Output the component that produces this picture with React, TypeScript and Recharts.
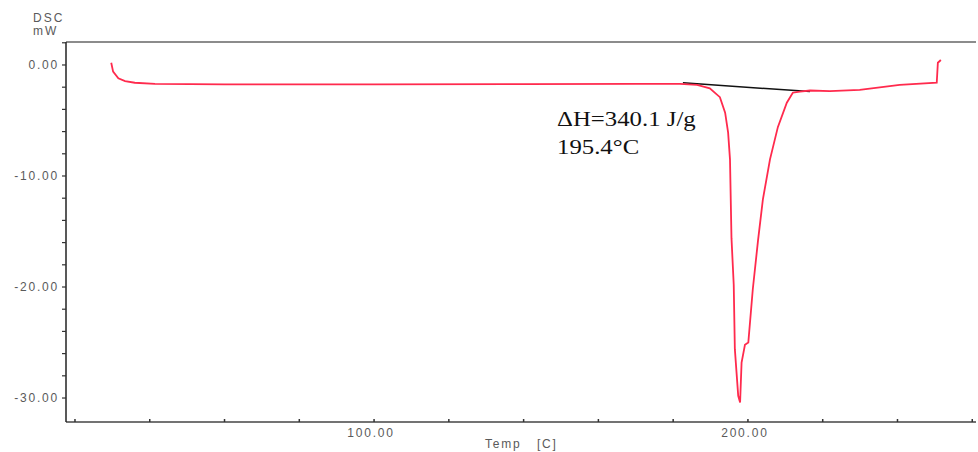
import { LineChart, Line, XAxis, YAxis, ReferenceLine } from 'recharts';

// DSC trace (temperature in C, heat flow in mW)
const temps = [
  29.7, 30.2, 31.6, 33.4, 36, 41.4, 60, 100, 140, 170, 181.8, 186.4, 189.8, 192.5, 193.9,
  194.7, 195.2, 195.6, 196.2, 196.5, 197.4, 197.9, 198.3, 199.2, 200.1, 201.3, 202.7,
  204.0, 205.9, 208.0, 210.4, 212.0, 213.9, 216.6, 221.9, 229.9, 240.6, 250.5, 250.8, 251.6,
];
const dsc = [
  0.2, -0.6, -1.2, -1.45, -1.6, -1.7, -1.75, -1.75, -1.72, -1.7, -1.7, -1.8, -2.1, -2.9, -4.3,
  -6.1, -8.5, -15.6, -19.8, -25.6, -29.8, -30.4, -26.8, -25.2, -25.0, -20.2, -15.8,
  -12.1, -8.5, -5.6, -3.4, -2.5, -2.4, -2.3, -2.35, -2.25, -1.8, -1.6, 0.2, 0.45,
];

// integration baseline (black)
const baseTemps = [182.6, 216.6];
const baseDsc = [-1.6, -2.4];

const xTicks = [20, 40, 60, 80, 100, 120, 140, 160, 180, 200, 220, 240, 260];
const xLabels = [100, 200];
const yTicks = [2, 0, -2, -4, -6, -8, -10, -12, -14, -16, -18, -20, -22, -24, -26, -28, -30];
const yLabels = [0, -10, -20, -30];

const X_MIN = 17.6;
const X_MAX = 261;
const Y_MIN = -32.16;
const Y_MAX = 2.07;

const trace = temps.map((t, i) => ({ t, dsc: dsc[i] }));
const baseline = baseTemps.map((t, i) => ({ t, dsc: baseDsc[i] }));

const tickFont = {
  fontFamily: 'Liberation Sans, Arial, sans-serif',
  fontSize: 12,
  fill: '#5a5a5a',
  letterSpacing: 1.8,
};

function XTick({ x, y, payload }: { x: number; y: number; payload: { value: number } }) {
  const v = payload.value;
  return (
    <g>
      <line x1={x} x2={x} y1={y} y2={y - 3} stroke="#333" strokeWidth={1.5} />
      {xLabels.includes(v) && (
        <text x={x - 3} y={y + 15} textAnchor="middle" {...tickFont}>
          {v.toFixed(2)}
        </text>
      )}
    </g>
  );
}

export default function App() {
  return (
    <div style={{ position: 'absolute', left: 0, top: 0, width: 978, height: 452, overflow: 'hidden', background: '#fff' }}>
      <LineChart
        width={978}
        height={452}
        data={trace}
        margin={{ top: 42, right: 2, bottom: 0, left: 0 }}
      >
        <XAxis
          dataKey="t"
          type="number"
          domain={[X_MIN, X_MAX]}
          ticks={xTicks}
          allowDataOverflow
          height={30}
          tickSize={0}
          tickMargin={0}
          tickLine={false}
          axisLine={{ stroke: '#444', strokeWidth: 1.5 }}
          tick={(props: any) => <XTick {...props} />}
          interval={0}
        />
        <YAxis
          type="number"
          domain={[Y_MIN, Y_MAX]}
          ticks={yTicks}
          allowDataOverflow
          width={66}
          interval={0}
          tickSize={4}
          tickMargin={3}
          tickLine={{ stroke: '#333', strokeWidth: 1.2 }}
          axisLine={{ stroke: '#222', strokeWidth: 1.5 }}
          tick={tickFont}
          tickFormatter={(v: number) => (yLabels.includes(v) ? v.toFixed(2) : '')}
        />
        <ReferenceLine y={Y_MAX} stroke="#666" strokeWidth={1.5} />
        <Line
          data={baseline}
          dataKey="dsc"
          type="linear"
          stroke="#111"
          strokeWidth={1.5}
          dot={false}
          isAnimationActive={false}
        />
        <Line
          dataKey="dsc"
          type="linear"
          stroke="#ff2a4d"
          strokeWidth={1.8}
          dot={false}
          isAnimationActive={false}
        />
      </LineChart>
      <div
        style={{
          position: 'absolute',
          left: 33,
          top: 12,
          fontFamily: 'Liberation Sans, Arial, sans-serif',
          fontSize: 12,
          lineHeight: '13px',
          color: '#5a5a5a',
          letterSpacing: 2,
        }}
      >
        DSC
        <br />
        mW
      </div>
      <div
        style={{
          position: 'absolute',
          left: 485,
          top: 437,
          fontFamily: 'Liberation Sans, Arial, sans-serif',
          fontSize: 12,
          lineHeight: '14px',
          color: '#5a5a5a',
          letterSpacing: 1.8,
          whiteSpace: 'pre',
        }}
      >
        {'Temp   [C]'}
      </div>
      <div
        style={{
          position: 'absolute',
          left: 557,
          top: 105,
          fontFamily: 'Liberation Serif, Times New Roman, serif',
          fontSize: 21,
          lineHeight: '28px',
          color: '#111',
          whiteSpace: 'pre',
          transform: 'scaleX(1.18)',
          transformOrigin: 'left top',
        }}
      >
        ΔH=340.1 J/g
        <br />
        195.4°C
      </div>
    </div>
  );
}
